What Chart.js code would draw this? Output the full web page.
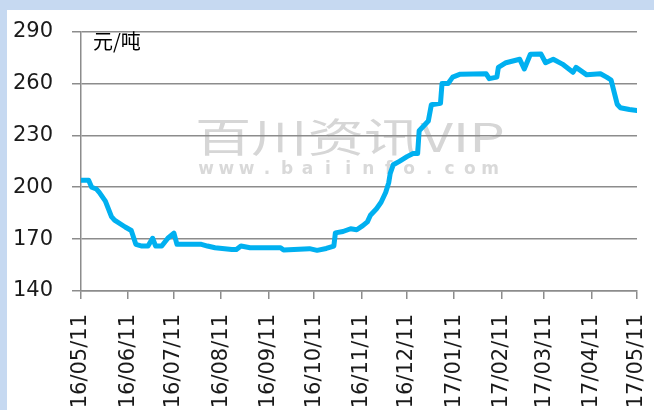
<!DOCTYPE html>
<html>
<head>
<meta charset="utf-8">
<script src="https://cdn.jsdelivr.net/npm/chart.js@4"></script>
<style>
    body { margin: 0; background: #c6d9f1; }
    #panel { position: absolute; left: 7px; top: 10px; width: 647px; height: 400px; background: #ffffff; }
    #myChart { position: absolute; left: 0; top: 0; }
</style>
</head>
<body>
<div id="panel"></div>
<canvas id="myChart" width="654" height="410"></canvas>
<script>
let dates = [
    "2016-05-11", "2016-05-16", "2016-05-18", "2016-05-21", "2016-05-23", "2016-05-27", "2016-05-31",
    "2016-06-02", "2016-06-09", "2016-06-13", "2016-06-16", "2016-06-20", "2016-06-24", "2016-06-27", "2016-06-29",
    "2016-07-03", "2016-07-07", "2016-07-11", "2016-07-13", "2016-07-29",
    "2016-08-02", "2016-08-07", "2016-08-18", "2016-08-21", "2016-08-24", "2016-08-30",
    "2016-09-19", "2016-09-21",
    "2016-10-08", "2016-10-13", "2016-10-19", "2016-10-24", "2016-10-25", "2016-10-30",
    "2016-11-04", "2016-11-08", "2016-11-12", "2016-11-15", "2016-11-17", "2016-11-21", "2016-11-24", "2016-11-27", "2016-11-29", "2016-11-30",
    "2016-12-02", "2016-12-06", "2016-12-11", "2016-12-15", "2016-12-18", "2016-12-19", "2016-12-23", "2016-12-25", "2016-12-27",
    "2017-01-02", "2017-01-03", "2017-01-07", "2017-01-10", "2017-01-15",
    "2017-02-01", "2017-02-03", "2017-02-08", "2017-02-09", "2017-02-14", "2017-02-23", "2017-02-26",
    "2017-03-02", "2017-03-09", "2017-03-12", "2017-03-17", "2017-03-23", "2017-03-30",
    "2017-04-01", "2017-04-08", "2017-04-17", "2017-04-21", "2017-04-24", "2017-04-28", "2017-04-30",
    "2017-05-06", "2017-05-11"
];

let prices = [
    204, 204, 200, 199, 197, 192, 183,
    181, 177, 175, 167, 166, 166, 170.5, 166,
    166, 170.5, 173.5, 167, 167,
    166, 165, 164, 164, 166, 165,
    165, 163.7,
    164.5, 163.5, 164.6, 166, 173.6, 174.4,
    176, 175.4, 177.8, 180, 183.8, 187.6, 191.3, 197, 202.6, 208,
    213, 215, 217.7, 219.5, 219.5, 232.7, 236.4, 238.3, 247.7,
    248.6, 260, 260, 263.7, 265.4,
    265.6, 262.8, 263.7, 269.3, 272, 274, 268.4,
    276.9, 277, 272, 274, 271.2, 266.5,
    269.3, 265, 265.6, 263.7, 262, 248, 246,
    245, 244.4
];

let tickLabels = [
    "16/05/11", "16/06/11", "16/07/11", "16/08/11", "16/09/11", "16/10/11", "16/11/11",
    "16/12/11", "17/01/11", "17/02/11", "17/03/11", "17/04/11", "17/05/11"
];

let yTicks = [140, 170, 200, 230, 260, 290];

let unitLabel = "元/吨";
let watermark = "百川资讯VIP";
let watermarkUrl = "www.baiinfo.com";

let startTime = Date.UTC(2016, 4, 11);

function dayOffset(str) {
    let p = str.split("-");
    return (Date.UTC(+p[0], +p[1] - 1, +p[2]) - startTime) / 86400000;
}

function tickDay(label) {
    let p = label.split("/");
    return dayOffset("20" + p[0] + "-" + p[1] + "-" + p[2]);
}

let tickDays = tickLabels.map(tickDay);
let points = dates.map(function(d, i) {
    return { x: dayOffset(d), y: prices[i] };
});

let axisFont = { family: "DejaVu Sans", size: 21 };
let gridColor = "#8c8c8c";

// watermark under the grid, unit label on top
let decorations = {
    id: "decorations",
    beforeDraw: function(chart) {
        let ctx = chart.ctx;
        ctx.save();
        ctx.fillStyle = "#d6d6d6";
        ctx.textBaseline = "alphabetic";
        ctx.font = '40px "Noto Sans CJK SC"';
        let w = ctx.measureText(watermark).width;
        ctx.translate(195, 152);
        ctx.scale(310 / w, 1);
        ctx.fillText(watermark, 0, 0);
        ctx.restore();

        ctx.save();
        ctx.fillStyle = "#d9d9d9";
        ctx.font = 'bold 17px "DejaVu Sans"';
        ctx.textAlign = "center";
        ctx.textBaseline = "alphabetic";
        for (let i = 0; i < watermarkUrl.length; i++) {
            ctx.fillText(watermarkUrl[i], 206 + i * 20.3, 174);
        }
        ctx.restore();
    },
    afterDraw: function(chart) {
        let ctx = chart.ctx;
        ctx.save();
        ctx.fillStyle = "#000000";
        ctx.font = '20px "Noto Sans CJK SC"';
        ctx.textBaseline = "top";
        ctx.fillText(unitLabel, 93, 31);
        ctx.restore();
    }
};

let ctx = document.getElementById("myChart").getContext("2d");
let chart = new Chart(ctx, {
    type: "line",
    data: {
        datasets: [{
            label: "price",
            data: points,
            borderColor: "#00b0f0",
            borderWidth: 5,
            borderJoinStyle: "round",
            borderCapStyle: "round",
            pointRadius: 0,
            tension: 0,
            fill: false
        }]
    },
    options: {
        responsive: false,
        devicePixelRatio: 1,
        animation: false,
        layout: {
            padding: { top: 25, right: 17, left: 0, bottom: 0 }
        },
        plugins: {
            legend: { display: false },
            tooltip: { enabled: false }
        },
        scales: {
            x: {
                type: "linear",
                min: 0,
                max: tickDays[tickDays.length - 1],
                afterFit: function(scale) {
                    scale.height = 119;
                    scale.paddingLeft = 0;
                    scale.paddingRight = 0;
                },
                afterBuildTicks: function(scale) {
                    scale.ticks = tickDays.map(function(v) { return { value: v }; });
                },
                grid: { drawOnChartArea: false, drawTicks: true, tickLength: 8, color: gridColor, lineWidth: 1.5 },
                border: { color: gridColor, width: 1.5 },
                ticks: {
                    autoSkip: false,
                    maxRotation: 90,
                    minRotation: 90,
                    padding: 15,
                    color: "#1a1a1a",
                    font: axisFont,
                    callback: function(v, i) { return tickLabels[i]; }
                }
            },
            y: {
                min: yTicks[0],
                max: yTicks[yTicks.length - 1],
                afterFit: function(scale) { scale.width = 81; },
                afterBuildTicks: function(scale) {
                    scale.ticks = yTicks.map(function(v) { return { value: v }; });
                },
                grid: { color: gridColor, lineWidth: 1.5, tickLength: 9 },
                border: { color: gridColor, width: 1.5 },
                ticks: {
                    padding: 19,
                    color: "#1a1a1a",
                    font: axisFont
                }
            }
        }
    },
    plugins: [decorations]
});
</script>
</body>
</html>
